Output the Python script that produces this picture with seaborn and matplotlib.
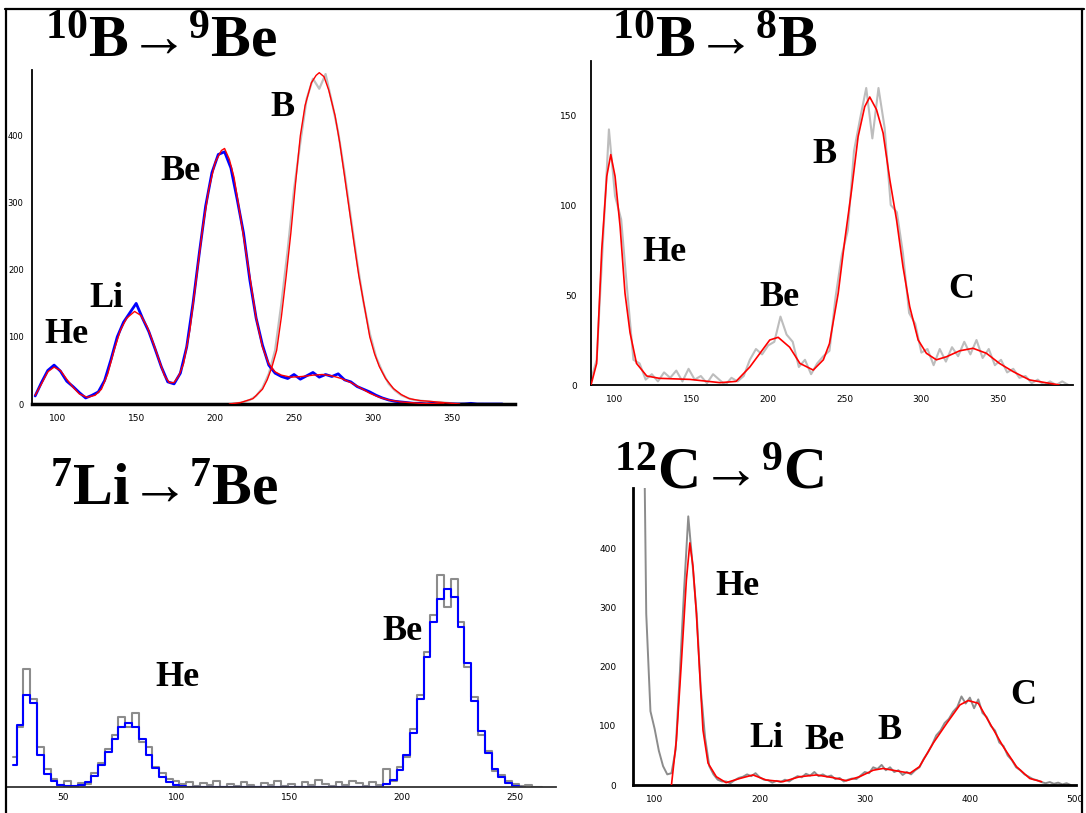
import matplotlib
matplotlib.use("Agg")
import matplotlib.pyplot as plt
import seaborn as sns
from matplotlib.lines import Line2D

W, H = 1086, 813

# --- 10B -> 9Be (top left): blue spectrum, red fits, grey B spectrum ---
tl_hist_x = list(range(86, 383, 4))
tl_hist_y = [12, 32, 50, 58, 49, 34, 26, 17, 9, 13,
             18, 35, 66, 100, 122, 136, 150, 128, 108, 82,
             55, 33, 30, 46, 85, 150, 225, 295, 345, 372,
             376, 352, 305, 255, 185, 128, 88, 58, 46, 41,
             38, 44, 37, 42, 47, 40, 44, 41, 45, 36,
             33, 26, 22, 18, 13, 9, 6, 4, 3, 2,
             1, 1, 0, 1, 0, 0, 0, 0, 0, 1,
             0, 0, 0, 0, 0]
tl_fit_x = [86, 90, 94, 98, 102, 106, 110, 114, 119, 124, 128, 132, 136, 140, 144,
            149, 153, 157, 161, 165, 168, 171, 174, 177, 180, 184, 188, 192, 196, 200,
            204, 206, 209, 212, 215, 218, 222, 226, 230, 234, 238, 242, 248, 255, 262,
            268, 274, 280, 286, 292, 298, 304, 310, 318, 330, 345]
tl_fit_y = [13, 30, 48, 55, 50, 37, 25, 15, 10, 13, 22, 45, 80, 110, 128,
            138, 132, 115, 90, 62, 42, 32, 32, 42, 60, 110, 185, 260, 320, 360,
            378, 381, 365, 338, 295, 250, 190, 128, 85, 60, 48, 43, 40, 41, 43,
            44, 42, 38, 32, 24, 16, 10, 6, 3, 1, 0]
tl_bfit_x = [209, 216, 224, 230, 233, 236, 239, 242, 245, 248, 251, 254, 257, 261, 264,
             266, 269, 272, 276, 279, 282, 285, 288, 291, 295, 298, 301, 304, 308, 313,
             318, 323, 330, 336, 345, 355]
tl_bfit_y = [0, 2, 8, 22, 36, 55, 80, 130, 190, 255, 330, 400, 445, 479, 490,
             494, 488, 468, 430, 389, 340, 290, 240, 192, 140, 100, 75, 56, 38, 23,
             14, 8, 5, 4, 2, 0]
tl_grey_x = list(range(210, 371, 4))
tl_grey_y = [0, 1, 3, 6, 12, 24, 45, 80, 150, 230,
             320, 390, 455, 485, 470, 492, 450, 405, 345, 278,
             212, 152, 105, 70, 48, 30, 20, 13, 9, 6,
             5, 4, 3, 3, 2, 1, 0, 1, 0, 0,
             0]
tl_labels = ["He", "Li", "Be", "B"]
tl_label_x = [105.7, 131, 177.8, 243]
tl_label_y = [103, 158, 346, 442]

# --- 10B -> 8B (top right): grey spectrum, red fit ---
tr_grey_x = list(range(84, 397, 4))
tr_grey_y = [2, 14, 78, 142, 105, 92, 52, 14, 12, 3,
             6, 2, 7, 4, 8, 2, 9, 3, 5, 1,
             6, 3, 0, 4, 2, 5, 14, 20, 17, 22,
             24, 38, 28, 24, 10, 14, 6, 12, 16, 19,
             49, 72, 86, 130, 148, 165, 137, 165, 143, 100,
             96, 73, 40, 34, 18, 20, 11, 20, 13, 21,
             16, 24, 17, 25, 15, 20, 11, 14, 7, 9,
             4, 5, 1, 3, 0, 2, 0, 2, 0]
tr_fit_x = [84.3, 88, 91.3, 94.6, 97.2, 100, 103.3, 106.5, 109.8, 114,
            120.7, 129, 149, 168.5, 179, 188, 194.6, 201, 206.5, 214,
            220.7, 229.4, 236, 240, 245.7, 250, 254.4, 258.7, 263, 266.3,
            270.7, 275, 279.4, 283.8, 288, 292.4, 297.9, 303.3, 309.8, 316.4,
            325, 333.7, 342.5, 351, 360, 370.7, 386, 390]
tr_fit_y = [0, 12, 75, 116, 128, 116, 88, 51, 29, 12,
            5, 3.7, 3.1, 1.3, 2, 10, 17.6, 25, 26.5, 21,
            12, 8.3, 14, 23, 51, 80.5, 108, 138, 154.6, 160,
            153, 140, 114, 91.7, 65.7, 43.5, 25, 17.6, 14, 15.7,
            19, 20.4, 17.6, 12, 7.4, 2.8, 0.6, 0]
tr_labels = ["He", "Be", "B", "C"]
tr_label_x = [132, 207.6, 237, 326]
tr_label_y = [73.6, 48.6, 127.8, 52.8]

# --- 7Li -> 7Be (bottom left): grey spectrum, blue fit histogram ---
bl_fit_x = list(range(28, 254, 3))
bl_fit_y = [22, 62, 92, 84, 32, 13, 6, 2, 1, 1,
            2, 5, 11, 22, 35, 48, 60, 64, 60, 48,
            32, 19, 10, 5, 2, 1, 0, 0, 0, 0,
            0, 0, 0, 0, 0, 0, 0, 0, 0, 0,
            0, 0, 0, 0, 0, 0, 0, 0, 0, 0,
            0, 0, 0, 0, 0, 3, 7, 17, 32, 54,
            88, 130, 165, 188, 198, 190, 160, 124, 86, 56,
            34, 18, 10, 4, 1, 0]
bl_grey_x = list(range(28, 263, 3))
bl_grey_y = [30, 60, 118, 88, 40, 18, 8, 2, 6, 0,
             4, 3, 14, 24, 38, 52, 70, 60, 74, 45,
             40, 20, 14, 8, 6, 3, 5, 1, 4, 2,
             6, 0, 3, 1, 5, 2, 0, 4, 2, 6,
             1, 3, 0, 5, 2, 7, 3, 1, 5, 2,
             6, 4, 1, 5, 2, 18, 6, 20, 30, 58,
             92, 135, 172, 212, 180, 208, 165, 120, 90, 52,
             36, 16, 12, 6, 3, 1, 2, 0, 0]
bl_labels = ["He", "Be"]
bl_label_x = [100.4, 199.9]
bl_label_y = [109, 155]

# --- 12C -> 9C (bottom right): grey spectrum, red fit ---
br_grey_x = list(range(88, 497, 4))
br_grey_y = [900, 290, 125, 95, 58, 32, 18, 20, 60, 190,
             330, 455, 375, 290, 160, 80, 32, 18, 9, 6,
             6, 3, 8, 12, 14, 18, 15, 20, 13, 9,
             8, 4, 7, 5, 9, 6, 11, 15, 13, 19,
             16, 22, 15, 18, 14, 16, 10, 12, 6, 9,
             11, 10, 16, 22, 20, 30, 27, 34, 25, 30,
             22, 25, 17, 22, 18, 25, 30, 44, 55, 68,
             84, 92, 105, 112, 124, 132, 150, 138, 148, 130,
             145, 122, 115, 100, 92, 72, 66, 50, 42, 30,
             25, 18, 14, 10, 8, 5, 3, 5, 2, 4,
             1, 3, 0]
br_fit_x = [116, 120.7, 125.4, 130.2, 133.5, 136.5, 139.7, 142.9, 146, 150.8,
            158.7, 168, 181, 193.6, 206, 222, 238, 254, 270, 282.5,
            295, 308, 317.4, 330, 343, 352, 365, 378, 390.5, 398.4,
            408, 419, 431.7, 444.4, 457, 468.3]
br_fit_y = [0, 76, 206, 347, 410, 370, 291, 189, 93, 37,
            14, 4, 11, 17, 8.5, 5.6, 14, 17, 12.4, 7.3,
            14, 25, 28, 24, 20, 31, 70.6, 104.5, 135.6, 143,
            138.4, 104.5, 65, 31, 11, 5.6]
br_labels = ["He", "Li", "Be", "B", "C"]
br_label_x = [178.6, 206.7, 262, 323.8, 451]
br_label_y = [337, 78, 74.6, 93, 151]

titles = [r"$^{10}$B→$^{9}$Be", r"$^{10}$B→$^{8}$B",
          r"$^{7}$Li→$^{7}$Be", r"$^{12}$C→$^{9}$C"]

RED = "#ff0000"
BLUE = "#0000ff"
SERIF = ["Liberation Serif", "DejaVu Serif"]

sns.set_style("white")
plt.rcParams["font.family"] = ["DejaVu Sans"]
plt.rcParams["text.color"] = "black"
plt.rcParams["xtick.color"] = "black"
plt.rcParams["ytick.color"] = "black"
plt.rcParams["mathtext.fontset"] = "custom"
plt.rcParams["mathtext.rm"] = "Liberation Serif:bold"
plt.rcParams["mathtext.it"] = "Liberation Serif:bold"
plt.rcParams["mathtext.bf"] = "Liberation Serif:bold"

fig = plt.figure(figsize=(W / 100, H / 100), dpi=100)


def px_box(l, t, r, b):
    # pixel box (from top-left) -> figure fraction rect
    return [l / W, 1 - b / H, (r - l) / W, (b - t) / H]


def trace(ax, x, y, color, lw, step=False, z=2):
    sns.lineplot(x=x, y=y, ax=ax, color=color, linewidth=lw, estimator=None,
                 drawstyle="steps-mid" if step else "default", zorder=z)


def style(ax, left=True):
    sns.despine(ax=ax, left=not left)
    for side in ["left", "bottom"]:
        ax.spines[side].set_color("black")
        ax.spines[side].set_linewidth(1.3)
    ax.tick_params(which="both", direction="out", length=4, width=1,
                   color="black", labelsize=6.5, pad=3)
    ax.set_xlabel("")
    ax.set_ylabel("")
    ax.set_facecolor("white")


def labels(ax, names, xs, ys):
    for s, x, y in zip(names, xs, ys):
        ax.text(x, y, s, fontsize=26, family=SERIF, fontweight="bold",
                color="black", ha="center", va="center")


# top left
ax1 = fig.add_axes(px_box(32, 70, 515, 404))
trace(ax1, tl_grey_x, tl_grey_y, "#c0c0c0", 1.6, z=1)
trace(ax1, tl_hist_x, tl_hist_y, BLUE, 2.0)
trace(ax1, tl_fit_x, tl_fit_y, RED, 1.0, z=3)
trace(ax1, tl_bfit_x, tl_bfit_y, RED, 1.0, z=3)
ax1.set_xlim(84, 390)
ax1.set_ylim(0, 498)
style(ax1)
ax1.spines["bottom"].set_linewidth(2.5)
ax1.set_xticks([100, 150, 200, 250, 300, 350])
ax1.set_xticks([125, 175, 225, 275, 325, 375], minor=True)
ax1.set_yticks([0, 100, 200, 300, 400])
ax1.set_yticks([50, 150, 250, 350, 450], minor=True)
ax1.tick_params(axis="y", labelsize=6, pad=2)
labels(ax1, tl_labels, tl_label_x, tl_label_y)

# top right
ax2 = fig.add_axes(px_box(591, 61, 1073, 385))
trace(ax2, tr_grey_x, tr_grey_y, "#bdbdbd", 1.5, z=1)
trace(ax2, tr_fit_x, tr_fit_y, RED, 1.2, z=3)
ax2.set_xlim(84.3, 399)
ax2.set_ylim(0, 180)
style(ax2)
ax2.set_xticks([100, 150, 200, 250, 300, 350])
ax2.set_xticks([125, 175, 225, 275, 325, 375], minor=True)
ax2.set_yticks([0, 50, 100, 150])
ax2.set_yticks([25, 75, 125, 175], minor=True)
ax2.tick_params(axis="y", pad=6)
labels(ax2, tr_labels, tr_label_x, tr_label_y)

# bottom left
ax3 = fig.add_axes(px_box(6.5, 517, 556, 787))
trace(ax3, bl_grey_x, bl_grey_y, "#8c8c8c", 1.5, step=True, z=1)
trace(ax3, bl_fit_x, bl_fit_y, BLUE, 1.5, step=True)
ax3.set_xlim(25, 268)
ax3.set_ylim(0, 270)
style(ax3, left=False)
ax3.spines["bottom"].set_color("#333333")
ax3.set_yticks([])
ax3.set_xticks([50, 100, 150, 200, 250])
ax3.tick_params(axis="x", length=0, pad=4)
labels(ax3, bl_labels, bl_label_x, bl_label_y)

# bottom right
ax4 = fig.add_axes(px_box(633, 488, 1076, 785))
trace(ax4, br_grey_x, br_grey_y, "#8c8c8c", 1.4, z=1)
trace(ax4, br_fit_x, br_fit_y, RED, 1.2, z=3)
ax4.set_xlim(79.4, 501)
ax4.set_ylim(0, 503)
style(ax4)
ax4.spines["left"].set_linewidth(2.0)
ax4.spines["bottom"].set_linewidth(2.0)
ax4.set_xticks([100, 200, 300, 400, 500])
ax4.set_xticks([150, 250, 350, 450], minor=True)
ax4.set_yticks([0, 100, 200, 300, 400])
ax4.tick_params(axis="y", pad=8)
labels(ax4, br_labels, br_label_x, br_label_y)

# panel titles, left edge / baseline in pixels
title_pos = [(45, 57), (612, 57), (50, 505), (614, 489)]
for t, (px, py) in zip(titles, title_pos):
    fig.text(px / W, 1 - py / H, t, fontsize=43, family=SERIF,
             fontweight="bold", color="black", ha="left", va="baseline")

# slide frame
for (x0, y0, x1, y1) in [(5, 9, 1084, 9), (6, 9, 6, 813), (1082, 9, 1082, 813)]:
    fig.add_artist(Line2D([x0 / W, x1 / W], [1 - y0 / H, 1 - y1 / H],
                          color="black", linewidth=1.6))

fig.savefig("out.png", dpi=100)
